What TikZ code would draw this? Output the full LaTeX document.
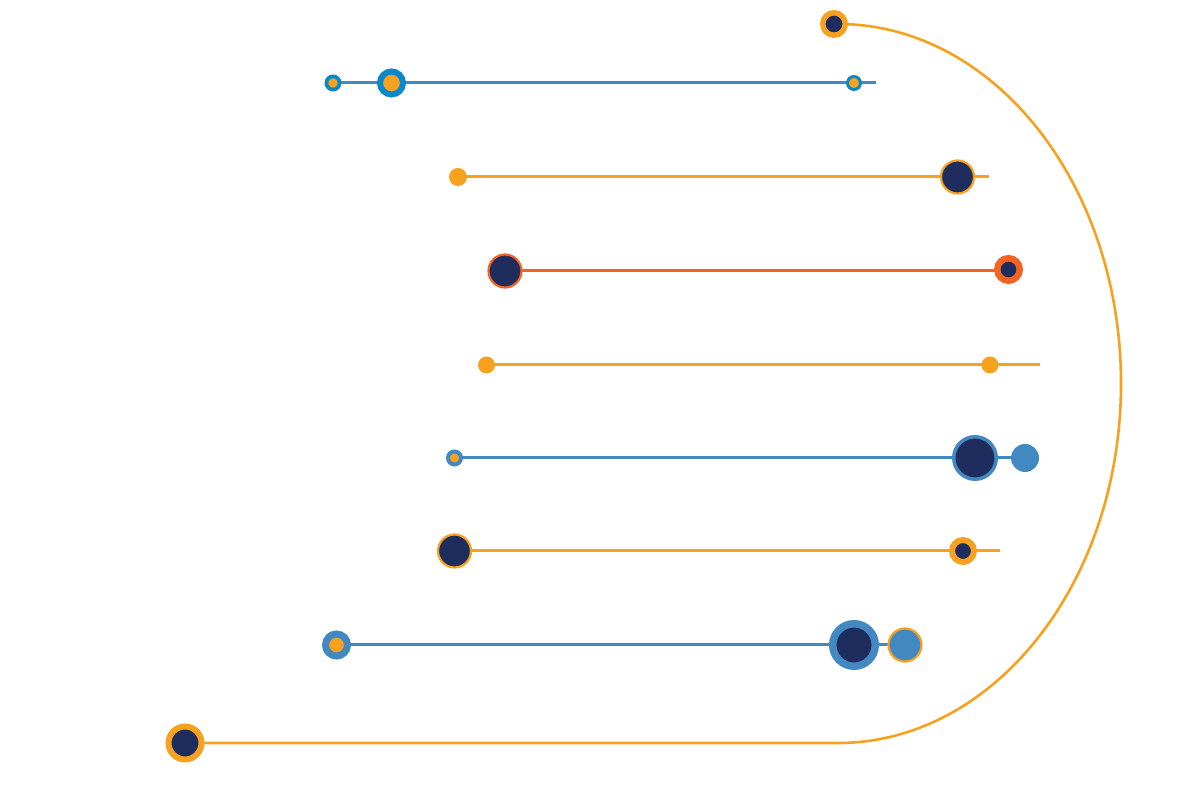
\documentclass[tikz,border=0pt]{standalone}
\usetikzlibrary{backgrounds}
\definecolor{orng}{HTML}{F6A11F}
\definecolor{blueS}{HTML}{0C88C8}
\definecolor{blu}{HTML}{4289C1}
\definecolor{navy}{HTML}{1F2C5E}
\definecolor{redo}{HTML}{F26424}
\tikzset{
  ring/.style n args={4}{circle, inner sep=0pt, fill=#2, draw=#1, line width=#3pt, minimum size=#4pt},
  dotf/.style 2 args={circle, inner sep=0pt, fill=#1, minimum size=#2pt},
  conn/.style={line width=3pt, draw=#1},
  arcl/.style={line width=2.6pt, draw=orng}
}
\begin{document}
\begin{tikzpicture}[x=1pt,y=1pt]
\useasboundingbox (0,0) rectangle (1200,800);
% row 1
\node[ring={blueS}{orng}{3.8}{13.2}] (a1) at (333,717) {};
\node[ring={blueS}{orng}{6}{23}] (a2) at (391.5,717) {};
\node[ring={blueS}{orng}{3}{13}] (a3) at (854,717) {};
\coordinate (a4) at (876,717);
% row 2
\node[dotf={orng}{18}] (b1) at (458,623) {};
\node[ring={orng}{navy}{2.2}{33}] (b2) at (957.5,623) {};
\coordinate (b3) at (989,623);
% row 3
\node[ring={redo}{navy}{2.2}{33}] (c1) at (505,529) {};
\node[ring={redo}{navy}{6.5}{22.5}] (c2) at (1008.5,530.5) {};
% row 4
\node[dotf={orng}{17}] (d1) at (486.5,435) {};
\node[dotf={orng}{17}] (d2) at (990,435) {};
\coordinate (d3) at (1040,435);
% row 5
\node[ring={blu}{orng}{4}{13}] (e1) at (454.5,342) {};
\node[ring={blu}{navy}{3.5}{42.5}] (e2) at (975,342) {};
\node[dotf={blu}{28}] (e3) at (1025,342) {};
% row 6
\node[ring={orng}{navy}{2.2}{33}] (f1) at (454.5,249) {};
\node[ring={orng}{navy}{6}{22}] (f2) at (963,249) {};
\coordinate (f3) at (1000,249);
% row 7
\node[ring={blu}{orng}{7}{22}] (g1) at (336.5,155) {};
\node[ring={blu}{navy}{7.5}{42.5}] (g2) at (854,155) {};
\node[ring={orng}{blu}{2.2}{33}] (g3) at (905,155) {};
% row 8 and arc
\node[ring={orng}{navy}{6}{33}] (h1) at (185,57) {};
\node[ring={orng}{navy}{5.5}{22.5}] (t) at (834,776) {};
\begin{pgfonlayer}{background}
\draw[conn=blu] (a1.center) -- (a4);
\draw[conn=orng] (b1.center) -- (b3);
\draw[conn=redo] (c1.center) -- (c1.center -| c2.center);
\draw[conn=orng] (d1.center) -- (d3);
\draw[conn=blu] (e1.center) -- (e3.center);
\draw[conn=orng] (f1.center) -- (f3);
\draw[conn=blu] (g1.center) -- (g3.center);
\draw[arcl] (t.center) -- (838,776) arc[start angle=90, end angle=-90, x radius=283, y radius=359.5] -- (h1.center);
\end{pgfonlayer}
\end{tikzpicture}
\end{document}
